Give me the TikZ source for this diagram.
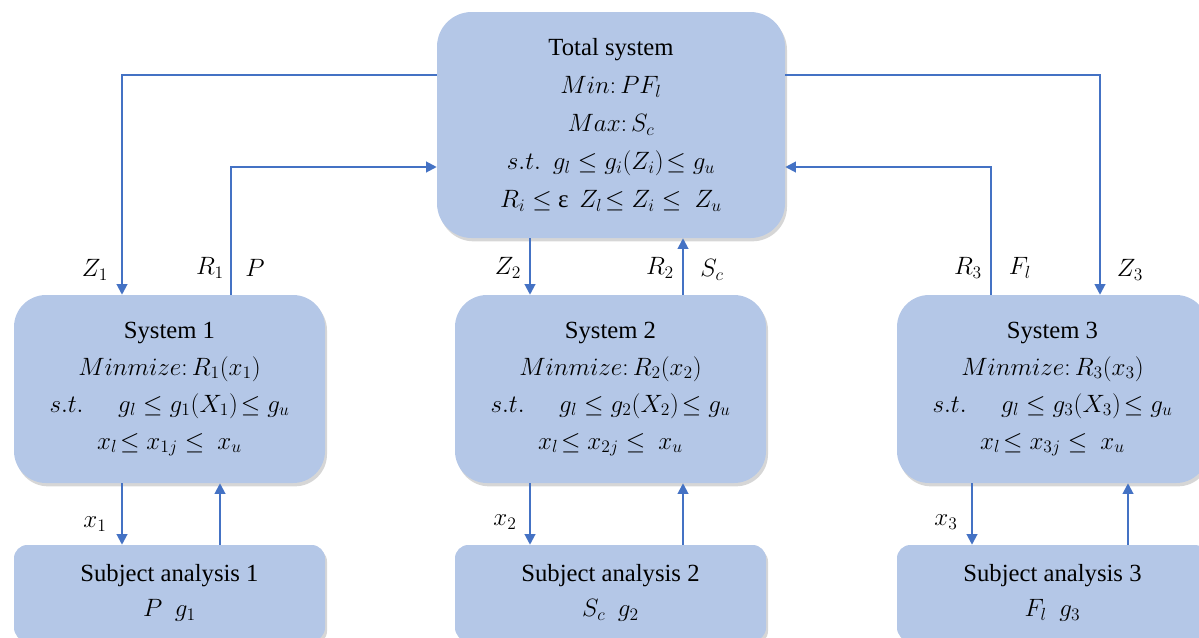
\RequirePackage{fix-cm}
\documentclass[tikz,border=0pt]{standalone}
\usepackage{fontspec}
\setmainfont{Liberation Serif}
\usetikzlibrary{arrows.meta,shadows}
\definecolor{boxfill}{HTML}{B4C7E7}
\definecolor{linkblue}{HTML}{4472C4}

% formula rows are set a little larger than the plain text rows
\newcommand\mathrow[1]{{\fontsize{18.8}{28}\selectfont #1}}

\tikzset{
  box/.style={fill=boxfill, draw=none, align=center, inner sep=0pt,
    drop shadow={shadow xshift=1.5pt, shadow yshift=-2.5pt, opacity=.32}},
  bigbox/.style={box, rounded corners=26pt, minimum width=261pt, minimum height=169.5pt,
    font=\fontsize{18.5}{28.5}\selectfont},
  sysbox/.style={box, rounded corners=24pt, minimum width=233.25pt, minimum height=141pt,
    font=\fontsize{18.5}{27.75}\selectfont},
  subbox/.style={box, rounded corners=10pt, minimum width=233.25pt, minimum height=72pt,
    font=\fontsize{18.5}{26.5}\selectfont},
  link/.style={draw=linkblue, line width=1.5pt, -{Triangle[length=8pt,width=8pt]}},
  tag/.style={inner sep=0pt, font=\fontsize{18.8}{20}\selectfont},
}

\begin{document}
\begin{tikzpicture}[x=0.75pt, y=-0.75pt]
\useasboundingbox (0,0) rectangle (1199,637);

% top-level coordinator
\node[bigbox] (tot) at (611,125) {Total system\\
  \mathrow{$Min{:}\,PF_l$}\\
  \mathrow{$Max{:}\,S_c$}\\
  \mathrow{$s.t.$\hspace{9pt}$g_l \le g_i(Z_i)\!\le g_u$}\\
  \mathrow{$R_i \le$ ε\hspace{8pt}$Z_l\!\le Z_i \le\ Z_u$}};

% subsystems
\node[sysbox] (s1) at (169.5,389) {System 1\\
  \mathrow{$Minmize{:}\,R_1(x_1)$}\\
  \mathrow{$s.t.$\hspace{26pt}$g_l \le g_1(X_1)\!\le g_u$}\\
  \mathrow{$x_l\!\le x_{1j} \le\ x_u$}};
\node[sysbox] (s2) at (610.5,389) {System 2\\
  \mathrow{$Minmize{:}\,R_2(x_2)$}\\
  \mathrow{$s.t.$\hspace{26pt}$g_l \le g_2(X_2)\!\le g_u$}\\
  \mathrow{$x_l\!\le x_{2j} \le\ x_u$}};
\node[sysbox] (s3) at (1052.5,389) {System 3\\
  \mathrow{$Minmize{:}\,R_3(x_3)$}\\
  \mathrow{$s.t.$\hspace{26pt}$g_l \le g_3(X_3)\!\le g_u$}\\
  \mathrow{$x_l\!\le x_{3j} \le\ x_u$}};

% discipline analyses
\node[subbox] (a1) at (169.5,593) {Subject analysis 1\\ \mathrow{$P\ \ g_1$}};
\node[subbox] (a2) at (610.5,593) {Subject analysis 2\\ \mathrow{$S_c\ \ g_2$}};
\node[subbox] (a3) at (1052.5,593) {Subject analysis 3\\ \mathrow{$F_l\ \ g_3$}};

% bend points of the loops
\coordinate (k1) at (122,75);
\coordinate (k2) at (231,167);
\coordinate (k3) at (1100,75);
\coordinate (k4) at (991,167);
\coordinate (c2a) at (530,0);
\coordinate (c2b) at (683,0);
\coordinate (d1) at (122,0);
\coordinate (u1) at (220,0);
\coordinate (d2) at (530,0);
\coordinate (u2) at (683,0);
\coordinate (d3) at (972,0);
\coordinate (u3) at (1128,0);

% total system <-> subsystems
\draw[link] (tot.west |- k1) -- (k1) -- (s1.north -| k1);
\draw[link] (s1.north -| k2) -- (k2) -- (tot.west |- k2);
\draw[link] (tot.east |- k3) -- (k3) -- (s3.north -| k3);
\draw[link] (s3.north -| k4) -- (k4) -- (tot.east |- k4);
\draw[link] (tot.south -| c2a) -- (s2.north -| c2a);
\draw[link] (s2.north -| c2b) -- (tot.south -| c2b);

% subsystems <-> analyses
\draw[link] (s1.south -| d1) -- (a1.north -| d1);
\draw[link] (a1.north -| u1) -- (s1.south -| u1);
\draw[link] (s2.south -| d2) -- (a2.north -| d2);
\draw[link] (a2.north -| u2) -- (s2.south -| u2);
\draw[link] (s3.south -| d3) -- (a3.north -| d3);
\draw[link] (a3.north -| u3) -- (s3.south -| u3);

% exchanged quantities
\node[tag] (lz1) at (95,270) {$Z_1$};
\node[tag] (lr1) at (210,268) {$R_1$};
\node[tag] (lp)  at (255,268) {$P$};
\node[tag] (lz2) at (508,268) {$Z_2$};
\node[tag] (lr2) at (660,268) {$R_2$};
\node[tag] (lsc) at (712,270) {$S_c$};
\node[tag] (lr3) at (968,268) {$R_3$};
\node[tag] (lfl) at (1020,268) {$F_l$};
\node[tag] (lz3) at (1130,270) {$Z_3$};
\node[tag] (lx1) at (95,524) {$x_1$};
\node[tag] (lx2) at (505,522) {$x_2$};
\node[tag] (lx3) at (946,522) {$x_3$};
\end{tikzpicture}
\end{document}
